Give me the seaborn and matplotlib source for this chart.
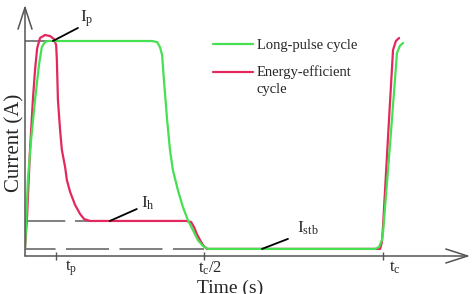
import matplotlib
matplotlib.use("Agg")
import matplotlib.pyplot as plt
from matplotlib.legend_handler import HandlerLine2D
import seaborn as sns
import pandas as pd

# time in units of the cycle period tc, current in units of Ip
tc = 1.0
tp = 0.087
Ip = 1.0
Ih = 0.163
Istb = 0.033

green_t = [0, .003, .008, .017, .028, .039, .047, .056, .064, .355, .369, .377,
           .383, .388, .397, .405, .413, .427, .441, .455, .469, .483, .497, .511,
           .978, .989, .997, 1.000, 1.020, 1.039, 1.047, 1.056]
green_I = [.033, .144, .353, .540, .726, .888, .972, .995, 1.0, 1.0, .995, .972,
           .935, .819, .633, .493, .400, .307, .228, .167, .121, .074, .047, .033,
           .033, .042, .074, .107, .526, .944, .977, .991]

red_t = [0, .006, .014, .022, .028, .034, .042, .056, .070, .081, .087, .089, .092,
         .098, .103, .112, .117, .126, .140, .154, .165, .182, .450, .464, .472,
         .480, .489, .497, .508, .531, .992, .997, 1.000, 1.014, 1.028, 1.036, 1.045]
red_I = [.033, .191, .493, .726, .865, .967, 1.014, 1.028, 1.023, 1.009, .981, .912,
         .726, .586, .493, .414, .353, .298, .237, .195, .172, .163, .163, .158,
         .135, .102, .074, .051, .033, .033, .033, .065, .135, .553, .958, 1.0, 1.014]

tick_pos = [tp, tc / 2, tc]
tick_labels = [r"$\mathrm{t_p}$", r"$\mathrm{t_c/2}$", r"$\mathrm{t_c}$"]
series_names = ["Long-pulse cycle", "Energy-efficient\ncycle"]
green = "#46e052"
red = "#e2285c"
gray = "#6a6a6a"


class TopLineHandler(HandlerLine2D):
    # put the legend line level with the first text line
    def create_artists(self, *args, **kwargs):
        arts = super().create_artists(*args, **kwargs)
        for a in arts:
            a.set_ydata([y + 6.1 for y in a.get_ydata()])
        return arts


sns.set_theme(style="white")
plt.rcParams["font.family"] = ["Liberation Serif", "DejaVu Serif"]
plt.rcParams["mathtext.fontset"] = "custom"
plt.rcParams["mathtext.rm"] = "Liberation Serif"
plt.rcParams["mathtext.it"] = "Liberation Serif:italic"
plt.rcParams["lines.scale_dashes"] = False

fig = plt.figure(figsize=(4.72, 2.94), dpi=100)
ax = fig.add_axes([25 / 472, 38 / 294, 447 / 472, 256 / 294])
ax.set_xlim(0, 447 / 358)
ax.set_ylim(0, 256 / 215)
for s in ax.spines.values():
    s.set_visible(False)

# reference levels
ax.plot([0, 0.084], [Ip, Ip], color=gray, lw=1.2)
ax.plot([0, 0.182], [Ih, Ih], color=gray, lw=1.2, ls=(0, (29, 7)))
ax.plot([0, tc / 2], [Istb, Istb], color=gray, lw=1.2, ls=(9, (31, 7.5)))

red_df = pd.DataFrame({"t": red_t, "I": red_I})
green_df = pd.DataFrame({"t": green_t, "I": green_I})
sns.lineplot(data=red_df, x="t", y="I", color=red, lw=1.6, sort=False,
             estimator=None, ax=ax, label=series_names[1])
sns.lineplot(data=green_df, x="t", y="I", color=green, lw=1.6, sort=False,
             estimator=None, ax=ax, label=series_names[0])
for ln in ax.lines[-2:]:
    ln.set_solid_joinstyle("round")

h, l = ax.get_legend_handles_labels()
leg = ax.legend(h[::-1], l[::-1], loc="upper left",
                bbox_to_anchor=(213 / 472, 1 - 39 / 294),
                bbox_transform=fig.transFigure, frameon=False, fontsize=10.5,
                handlelength=2.75, handletextpad=0.25, labelspacing=0.87,
                borderpad=0, borderaxespad=0,
                handler_map={h[0]: TopLineHandler()})
for txt in leg.get_texts():
    txt.set_linespacing(1.46)

# axes with open arrow heads
arrow = dict(arrowstyle="->,head_length=1.3,head_width=0.42", color="#555555",
             lw=1.1, shrinkA=0, shrinkB=0)
ax.annotate("", xy=(0, 251 / 215), xytext=(0, 0), arrowprops=arrow,
            annotation_clip=False)
ax.annotate("", xy=(445 / 358, 0), xytext=(0, 0), arrowprops=arrow,
            annotation_clip=False)

ax.set_xticks(tick_pos)
ax.set_yticks([])
ax.tick_params(axis="x", direction="inout", length=6, width=1, color="#555555",
               labelbottom=False, bottom=True)
shifts = [0.041, 0.017, 0.034]
for x, lab, sh in zip(tick_pos, tick_labels, shifts):
    ax.text(x + sh, -0.056, lab, ha="center", va="center", fontsize=12, clip_on=False)

ax.set_ylabel("Current (A)", fontsize=15)
ax.yaxis.set_label_coords(-0.001, 0.441)
ax.set_xlabel("Time (s)", fontsize=14)
ax.xaxis.set_label_coords(0.459, -0.094)

# level labels with leader lines
lead = dict(arrowstyle="-", color="black", lw=1.3, shrinkA=0, shrinkB=0)
for xy, lab, d_line, d_text in [((0.078, Ip), r"$\mathrm{I_p}$", (18, 9.4), (19.4, 15.8)),
                                ((0.237, Ih), r"$\mathrm{I_h}$", (19.4, 8.6), (22.3, 13)),
                                ((0.662, Istb), r"$\mathrm{I_{stb}}$", (18.7, 7.2), (25.2, 15.1))]:
    ax.annotate("", xy=xy, xytext=d_line, textcoords="offset points", arrowprops=lead)
    ax.annotate(lab, xy=xy, xytext=d_text, textcoords="offset points",
                ha="left", va="center", fontsize=12.5)

fig.savefig("out.png", dpi=100)
